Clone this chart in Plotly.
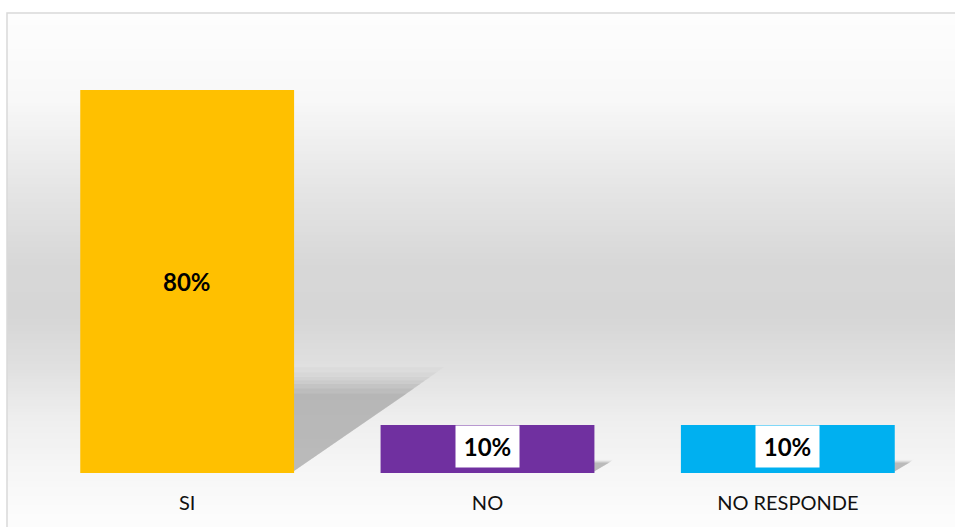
import plotly.graph_objects as go

categories = ["SI", "NO", "NO RESPONDE"]
values = [0.80, 0.10, 0.10]
labels = ["80%", "10%", "10%"]
bar_colors = ["#FFC000", "#7030A0", "#00B0F0"]
label_boxed = [False, True, True]

W, H = 955, 527
ML, MR, MT, MB = 37, 17, 42, 54
pw, ph = W - ML - MR, H - MT - MB

def px_to_paper_x(px):
    return (px - ML) / pw

def px_to_paper_y(py):
    return (H - MB - py) / ph

xs = list(range(len(categories)))
bar_width = 0.712

fig = go.Figure()
fig.add_trace(go.Bar(
    x=xs, y=values, marker=dict(color=bar_colors, line=dict(width=0)),
    width=bar_width, hoverinfo="skip", showlegend=False,
))

shapes = []
# background gradient (frame area)
stops = [(13, 253), (40, 252), (100, 248), (133, 241), (200, 227), (267, 215),
         (317, 214), (367, 224), (417, 238), (450, 243), (483, 248), (517, 252), (527, 252)]
def gray_at(py):
    for (y0, g0), (y1, g1) in zip(stops[:-1], stops[1:]):
        if y0 <= py <= y1:
            t = (py - y0) / (y1 - y0)
            return g0 + (g1 - g0) * t
    return stops[-1][1]

step = 3
py = 13
while py < 530:
    g = int(round(gray_at(py + step / 2)))
    shapes.append(dict(type="rect", xref="paper", yref="paper", layer="below",
                       x0=px_to_paper_x(7), x1=px_to_paper_x(960),
                       y0=px_to_paper_y(py), y1=px_to_paper_y(py + step + 0.5),
                       fillcolor=f"rgb({g},{g},{g})", line=dict(width=0)))
    py += step

# shadows (perspective, derived from bar geometry), soft edges via layered halos
s_h = 0.23
k_w = 0.52
layers = [(1.2, 0.06), (1.14, 0.08), (1.09, 0.1), (1.05, 0.12), (1.01, 0.15),
          (0.96, 0.2), (0.9, 0.22)]
for i, v in enumerate(values):
    xr = xs[i] + bar_width / 2
    for grow, op in layers:
        top = s_h * v * grow
        right = xr + k_w * v * grow
        path = f"M {xr - 0.01},0 L {xr - 0.01},{top} L {right},{top} Z"
        shapes.append(dict(type="path", xref="x", yref="y", layer="below", path=path,
                           fillcolor="#9a9a9a", opacity=op, line=dict(width=0)))

# frame border
shapes.append(dict(type="rect", xref="paper", yref="paper", layer="above",
                   x0=px_to_paper_x(7), x1=px_to_paper_x(960),
                   y0=px_to_paper_y(540), y1=px_to_paper_y(13),
                   line=dict(color="#d9d9d9", width=1.5), fillcolor="rgba(0,0,0,0)"))

annotations = []
for i, (v, lab, boxed) in enumerate(zip(values, labels, label_boxed)):
    a = dict(x=xs[i], y=v / 2, xref="x", yref="y", text=f"<b>{lab}</b>", showarrow=False,
             font=dict(family="Lato", size=24, color="#000000"))
    if boxed:
        a.update(bgcolor="#FFFFFF", width=63, height=41, borderpad=0, yshift=3)
    annotations.append(a)

fig.update_layout(
    width=W, height=H,
    margin=dict(l=ML, r=MR, t=MT, b=MB),
    paper_bgcolor="#FFFFFF", plot_bgcolor="rgba(0,0,0,0)",
    shapes=shapes, annotations=annotations,
    bargap=0.288,
    font=dict(family="Lato", size=20, color="#111111"),
    xaxis=dict(range=[-0.5, 2.5], tickvals=xs, ticktext=categories, showgrid=False,
               zeroline=False, showline=False, ticks="outside", ticklen=12,
               tickcolor="rgba(0,0,0,0)", tickfont=dict(family="Lato", size=20, color="#111111")),
    yaxis=dict(range=[0, 0.9], visible=False, showgrid=False, zeroline=False),
)

fig.write_html("out.html", config={"displayModeBar": False},
               post_script="document.body.style.margin='0';document.body.style.overflow='hidden';")
